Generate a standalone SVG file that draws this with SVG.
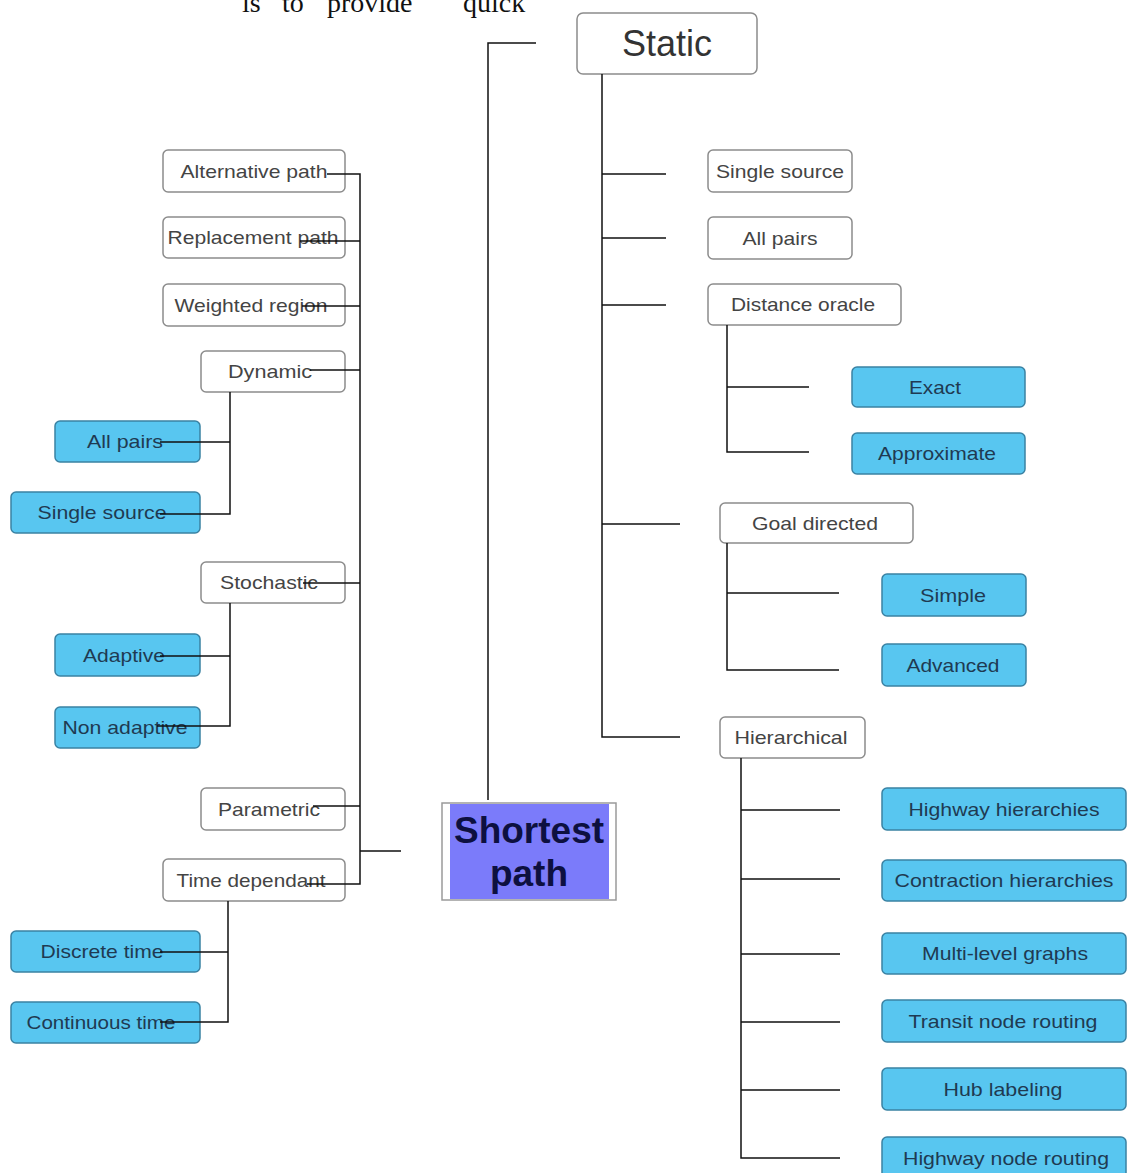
<svg xmlns="http://www.w3.org/2000/svg" width="1127" height="1173" viewBox="0 0 1127 1173">
<style>
.w rect{fill:#fff;stroke:#8c8c8c;stroke-width:1.5}
.b rect{fill:#58c6f0;stroke:#3a82a3;stroke-width:1.5}
text{font-family:"Liberation Sans",Arial,sans-serif;font-size:19px;text-anchor:middle}
.w text{fill:#444}
.b text{fill:#1f3a52}
#connectors path{fill:none;stroke:#111;stroke-width:1.5}
</style>
<rect width="1127" height="1173" fill="#fff"/>
<text x="242" y="12" style="font-family:'Liberation Serif',serif;font-size:28px;text-anchor:start;fill:#111"><tspan x="242">is</tspan><tspan x="282">to</tspan><tspan x="327">provide</tspan><tspan x="463">quick</tspan></text>

<g id="static" class="w"><rect x="577" y="13" width="180" height="61" rx="6"/><text x="667" y="56" style="font-size:36px;fill:#333">Static</text></g>
<g id="r_single" class="w"><rect x="708" y="150" width="144" height="42" rx="5"/><text x="780" y="177.5" textLength="128" lengthAdjust="spacingAndGlyphs">Single source</text></g>
<g id="r_allpairs" class="w"><rect x="708" y="217" width="144" height="42" rx="5"/><text x="780" y="244.5" textLength="75" lengthAdjust="spacingAndGlyphs">All pairs</text></g>
<g id="distance" class="w"><rect x="708" y="284" width="193" height="41" rx="5"/><text x="803" y="311" textLength="144" lengthAdjust="spacingAndGlyphs">Distance oracle</text></g>
<g id="goal" class="w"><rect x="720" y="503" width="193" height="40" rx="5"/><text x="815" y="529.5" textLength="126" lengthAdjust="spacingAndGlyphs">Goal directed</text></g>
<g id="hier" class="w"><rect x="720" y="717" width="145" height="41" rx="5"/><text x="791" y="744" textLength="113" lengthAdjust="spacingAndGlyphs">Hierarchical</text></g>

<g id="exact" class="b"><rect x="852" y="367" width="173" height="40" rx="5"/><text x="935" y="393.5" textLength="52" lengthAdjust="spacingAndGlyphs">Exact</text></g>
<g id="approx" class="b"><rect x="852" y="433" width="173" height="41" rx="5"/><text x="937" y="460" textLength="118" lengthAdjust="spacingAndGlyphs">Approximate</text></g>
<g id="simple" class="b"><rect x="882" y="574" width="144" height="42" rx="5"/><text x="953" y="601.5" textLength="66" lengthAdjust="spacingAndGlyphs">Simple</text></g>
<g id="advanced" class="b"><rect x="882" y="644" width="144" height="42" rx="5"/><text x="953" y="671.5" textLength="93" lengthAdjust="spacingAndGlyphs">Advanced</text></g>
<g id="hh" class="b"><rect x="882" y="788" width="244" height="42" rx="5"/><text x="1004" y="815.5" textLength="191" lengthAdjust="spacingAndGlyphs">Highway hierarchies</text></g>
<g id="ch" class="b"><rect x="882" y="860" width="244" height="41" rx="5"/><text x="1004" y="887" textLength="219" lengthAdjust="spacingAndGlyphs">Contraction hierarchies</text></g>
<g id="mlg" class="b"><rect x="882" y="933" width="244" height="41" rx="5"/><text x="1005" y="960" textLength="166" lengthAdjust="spacingAndGlyphs">Multi-level graphs</text></g>
<g id="tnr" class="b"><rect x="882" y="1000" width="244" height="42" rx="5"/><text x="1003" y="1027.5" textLength="189" lengthAdjust="spacingAndGlyphs">Transit node routing</text></g>
<g id="hub" class="b"><rect x="882" y="1068" width="244" height="42" rx="5"/><text x="1003" y="1095.5" textLength="119" lengthAdjust="spacingAndGlyphs">Hub labeling</text></g>
<g id="hnr" class="b"><rect x="882" y="1137" width="244" height="42" rx="5"/><text x="1006" y="1164.5" textLength="206" lengthAdjust="spacingAndGlyphs">Highway node routing</text></g>

<g id="alt" class="w"><rect x="163" y="150" width="182" height="42" rx="5"/><text x="254" y="177.5" textLength="147" lengthAdjust="spacingAndGlyphs">Alternative path</text></g>
<g id="repl" class="w"><rect x="163" y="217" width="182" height="41" rx="5"/><text x="253" y="244" textLength="171" lengthAdjust="spacingAndGlyphs">Replacement path</text></g>
<g id="weighted" class="w"><rect x="163" y="284" width="182" height="42" rx="5"/><text x="251" y="311.5" textLength="153" lengthAdjust="spacingAndGlyphs">Weighted region</text></g>
<g id="dynamic" class="w"><rect x="201" y="351" width="144" height="41" rx="5"/><text x="270" y="378" textLength="84" lengthAdjust="spacingAndGlyphs">Dynamic</text></g>
<g id="stochastic" class="w"><rect x="201" y="562" width="144" height="41" rx="5"/><text x="269" y="589" textLength="98" lengthAdjust="spacingAndGlyphs">Stochastic</text></g>
<g id="parametric" class="w"><rect x="201" y="788" width="144" height="42" rx="5"/><text x="269" y="815.5" textLength="102" lengthAdjust="spacingAndGlyphs">Parametric</text></g>
<g id="timedep" class="w"><rect x="163" y="859" width="182" height="42" rx="5"/><text x="251" y="886.5" textLength="149" lengthAdjust="spacingAndGlyphs">Time dependant</text></g>

<g id="l_allpairs" class="b"><rect x="55" y="421" width="145" height="41" rx="5"/><text x="125" y="448" textLength="76" lengthAdjust="spacingAndGlyphs">All pairs</text></g>
<g id="l_single" class="b"><rect x="11" y="492" width="189" height="41" rx="5"/><text x="102" y="519" textLength="129" lengthAdjust="spacingAndGlyphs">Single source</text></g>
<g id="adaptive" class="b"><rect x="55" y="634" width="145" height="42" rx="5"/><text x="124" y="661.5" textLength="82" lengthAdjust="spacingAndGlyphs">Adaptive</text></g>
<g id="nonadaptive" class="b"><rect x="55" y="707" width="145" height="41" rx="5"/><text x="125" y="734" textLength="125" lengthAdjust="spacingAndGlyphs">Non adaptive</text></g>
<g id="discrete" class="b"><rect x="11" y="931" width="189" height="41" rx="5"/><text x="102" y="958" textLength="123" lengthAdjust="spacingAndGlyphs">Discrete time</text></g>
<g id="continuous" class="b"><rect x="11" y="1002" width="189" height="41" rx="5"/><text x="101" y="1029" textLength="149" lengthAdjust="spacingAndGlyphs">Continuous time</text></g>

<g id="shortest">
<rect x="442" y="803" width="174" height="97" fill="#fff" stroke="#9a9a9a" stroke-width="1.5"/>
<rect x="450" y="804" width="159" height="95" fill="#7b7bfa"/>
<text x="529" y="843" style="font-size:37px;font-weight:bold;fill:#0d1040">Shortest</text>
<text x="529" y="886" style="font-size:37px;font-weight:bold;fill:#0d1040">path</text>
</g>

<g id="connectors">
<path d="M602,74 V737 H680"/>
<path d="M602,174 H666 M602,238 H666 M602,305 H666 M602,524 H680"/>
<path d="M727,325 V452 H809 M727,387 H809"/>
<path d="M727,543 V670 H839 M727,593 H839"/>
<path d="M741,758 V1158 H840 M741,810 H840 M741,879 H840 M741,954 H840 M741,1022 H840 M741,1090 H840"/>
<path d="M488,800 V43 H536"/>
<path d="M327,174 H360 V884 H307 M360,851 H401"/>
<path d="M300,241 H360 M302,306 H360 M310,370 H360 M303,583 H360 M313,806 H360"/>
<path d="M230,392 V514 H160 M160,442 H230"/>
<path d="M230,603 V726 H157 M160,656 H230"/>
<path d="M228,901 V1022 H160 M160,952 H228"/>
</g>
</svg>
